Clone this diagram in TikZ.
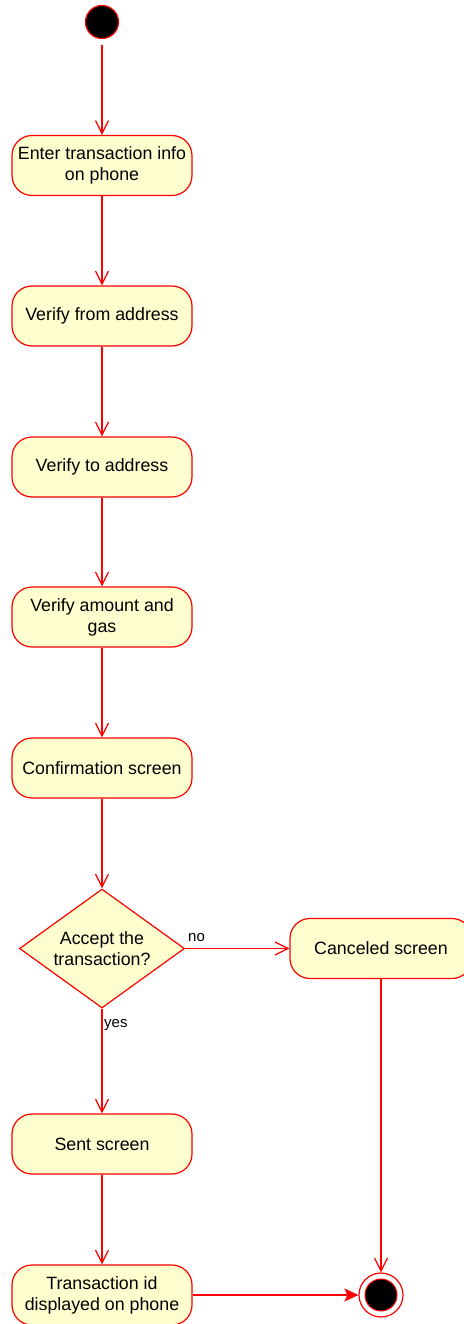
\documentclass[tikz,border=0pt]{standalone}
\usepackage{fontspec}
\setmainfont{Liberation Sans}
\usetikzlibrary{arrows.meta,shapes.geometric}
\definecolor{actfill}{HTML}{FEFECE}
\definecolor{actline}{HTML}{FF0000}
\tikzset{
  activity/.style={draw=actline, fill=actfill, line width=1.2pt, rectangle,
    rounded corners=20pt, minimum width=180pt, minimum height=60pt,
    inner sep=2pt, align=center, font=\fontsize{17.8}{21}\selectfont},
  decision/.style={draw=actline, fill=actfill, line width=1.2pt, diamond,
    aspect=1.39, minimum width=165pt, minimum height=119pt, inner sep=0pt,
    align=center, font=\fontsize{17.8}{21}\selectfont},
  flow/.style={draw=actline, line width=1.2pt,
    -{Straight Barb[length=13pt,width=13pt,line width=1.2pt]}},
  finalflow/.style={draw=actline, line width=1.2pt,
    -{Stealth[length=14pt,width=13pt,inset=3pt]}},
  guard/.style={font=\fontsize{15}{17}\selectfont, inner sep=0pt},
}
\begin{document}
\begin{tikzpicture}[x=1pt,y=-1pt]
  \useasboundingbox (0,0) rectangle (463,1324);
  % start and end states
  \node[circle, fill=black, draw=actline, line width=1.2pt, minimum size=33pt, inner sep=0pt] (start) at (102,22) {};
  \node[circle, fill=white, draw=actline, line width=1.2pt, minimum size=44pt, inner sep=0pt] (stop) at (381,1295) {};
  \node[circle, fill=black, draw=actline, line width=1pt, minimum size=32pt, inner sep=0pt] (stopdot) at (stop) {};
  % activities
  \node[activity] (enter) at (102,165.5) {Enter transaction info\\on phone};
  \node[activity] (from) at (102,316) {Verify from address};
  \node[activity] (to) at (102,467) {Verify to address};
  \node[activity] (amount) at (102,617) {Verify amount and\\gas};
  \node[activity] (confirm) at (102,768) {Confirmation screen};
  \node[decision] (accept) at (102,948.5) {Accept the\\transaction?};
  \node[activity, minimum width=182pt] (cancel) at (381,948.5) {Canceled screen};
  \node[activity] (sent) at (102,1144) {Sent screen};
  \node[activity] (txid) at (102,1295) {Transaction id\\displayed on phone};
  % flows
  \draw[flow, shorten <=6pt] (start) -- (enter);
  \draw[flow] (enter) -- (from);
  \draw[flow] (from) -- (to);
  \draw[flow] (to) -- (amount);
  \draw[flow] (amount) -- (confirm);
  \draw[flow] (confirm) -- (accept);
  \draw[flow] (accept.east) -- (cancel.west);
  \draw[flow] (accept.south) -- (sent);
  \draw[flow] (sent) -- (txid);
  \draw[flow] (cancel) -- (stop);
  \draw[finalflow] (txid.east) -- (stop.west);
  % guards
  \node[guard, anchor=south west] (no) at (188,942) {no};
  \node[guard, anchor=north west] (yes) at (104,1019) {yes};
\end{tikzpicture}
\end{document}
